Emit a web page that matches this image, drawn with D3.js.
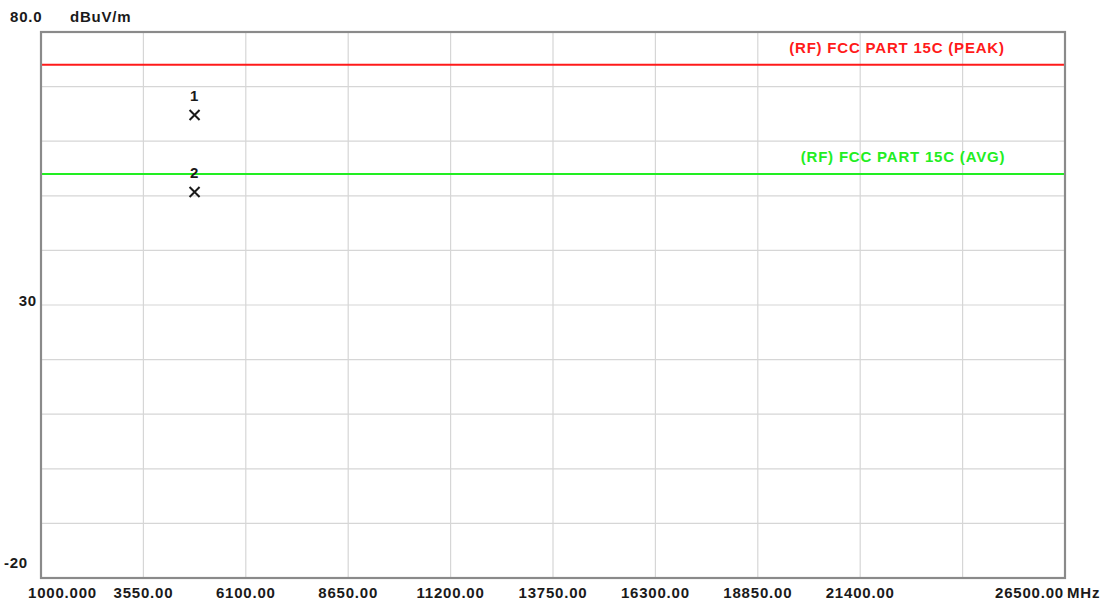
<!DOCTYPE html>
<html>
<head>
<meta charset="utf-8">
<script src="https://cdn.jsdelivr.net/npm/d3@7"></script>
<style>
  body { margin: 0; background: #fff; }
  svg text { font-family: "Liberation Sans", Arial, sans-serif; font-weight: bold; font-size: 15px; letter-spacing: 0.8px; fill: #1a1a1a; }
</style>
</head>
<body>
<svg width="1106" height="603"></svg>
<script>
// chart values
const xTicks = [1000, 3550, 6100, 8650, 11200, 13750, 16300, 18850, 21400, 23950, 26500]
const xTickLabels = ['1000.000', '3550.00', '6100.00', '8650.00', '11200.00', '13750.00', '16300.00', '18850.00', '21400.00', '', '26500.00']
const yTicks = [80, 70, 60, 50, 40, 30, 20, 10, 0, -10, -20]
const yTickLabels = { 80: '80.0', 30: '30', '-20': '-20' }
const limitNames = ['(RF) FCC PART 15C (PEAK)', '(RF) FCC PART 15C (AVG)']
const limitValues = [74, 54]
const limitColors = ['#ff1a1a', '#22ee22']
const markerIds = ['1', '2']
const markerFreqs = [4824, 4824]
const markerLevels = [64.8, 50.7]

const svg = d3.select('svg')
const margin = { left: 41, top: 32, right: 1106 - 1065, bottom: 603 - 578 }
const width = 1106, height = 603

const x = d3.scaleLinear().domain([1000, 26500]).range([margin.left, width - margin.right])
const y = d3.scaleLinear().domain([-20, 80]).range([height - margin.bottom, margin.top])

// grid
const grid = svg.append('g').attr('class', 'grid')
grid.selectAll('.vgrid')
    .data(xTicks.slice(1, -1))
    .enter().append('line')
    .attr('x1', d => x(d)).attr('x2', d => x(d))
    .attr('y1', y(80)).attr('y2', y(-20))
    .attr('stroke', '#d6d6d6').attr('stroke-width', 1.2)
grid.selectAll('.hgrid')
    .data(yTicks.slice(1, -1))
    .enter().append('line')
    .attr('x1', x(1000)).attr('x2', x(26500))
    .attr('y1', d => y(d)).attr('y2', d => y(d))
    .attr('stroke', '#d6d6d6').attr('stroke-width', 1.2)

// limit lines
const limits = svg.append('g').attr('class', 'limits')
limitValues.forEach((v, i) => {
    limits.append('line')
        .attr('x1', x(1000)).attr('x2', x(26500))
        .attr('y1', y(v)).attr('y2', y(v))
        .attr('stroke', limitColors[i]).attr('stroke-width', 2)
    limits.append('text')
        .text(limitNames[i])
        .attr('x', i === 0 ? 897 : 903)
        .attr('y', y(v) - 12)
        .attr('text-anchor', 'middle')
        .style('fill', limitColors[i])
})

// frame
svg.append('rect')
    .attr('x', x(1000)).attr('y', y(80))
    .attr('width', x(26500) - x(1000)).attr('height', y(-20) - y(80))
    .attr('fill', 'none').attr('stroke', '#8a8a8a').attr('stroke-width', 2.2)

// markers
const markers = svg.append('g').attr('class', 'markers')
markerIds.forEach((id, i) => {
    const cx = x(markerFreqs[i]), cy = y(markerLevels[i])
    const s = 5
    markers.append('path')
        .attr('d', `M${cx - s},${cy - s}L${cx + s},${cy + s}M${cx - s},${cy + s}L${cx + s},${cy - s}`)
        .attr('stroke', '#1a1a1a').attr('stroke-width', 2).attr('fill', 'none')
    markers.append('text')
        .text(id)
        .attr('x', cx).attr('y', cy - 14)
        .attr('text-anchor', 'middle')
})

// x tick labels
const xLab = svg.append('g').attr('class', 'x-labels')
xTicks.forEach((t, i) => {
    if (!xTickLabels[i]) return
    let px = x(t), anchor = 'middle'
    if (i === 0) { px = 28; anchor = 'start' }
    if (i === xTicks.length - 1) { px = x(t) - 1; anchor = 'end' }
    xLab.append('text')
        .text(xTickLabels[i])
        .attr('x', px).attr('y', 598)
        .attr('text-anchor', anchor)
})
xLab.append('text').text('MHz').attr('x', 1067).attr('y', 598)

// y tick labels
const yLab = svg.append('g').attr('class', 'y-labels')
yTicks.forEach(t => {
    const lab = yTickLabels[t]
    if (!lab) return
    if (t === 80) {
        yLab.append('text').text(lab).attr('x', 10).attr('y', 22)
    } else {
        yLab.append('text').text(lab)
            .attr('x', t === -20 ? 28 : 37)
            .attr('y', y(t) + (t === -20 ? -10 : 1))
            .attr('text-anchor', 'end')
    }
})
yLab.append('text').text('dBuV/m').attr('x', 70).attr('y', 22)
</script>
</body>
</html>
